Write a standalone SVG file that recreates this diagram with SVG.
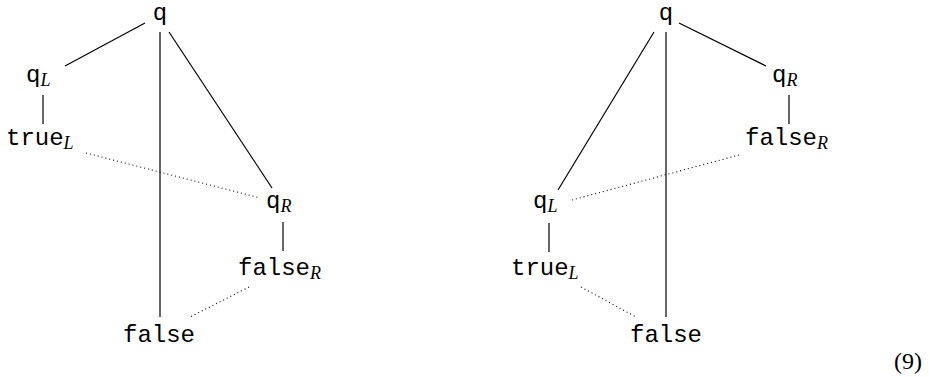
<svg xmlns="http://www.w3.org/2000/svg" width="930" height="377" viewBox="0 0 930 377">
<style>
.tt{font-family:"Liberation Mono","DejaVu Sans Mono",monospace;font-size:24px;fill:#000}
.sub{font-family:"Liberation Serif","DejaVu Serif",serif;font-style:italic;font-size:18px;fill:#000}
.num{font-family:"Liberation Serif","DejaVu Serif",serif;font-size:24px;fill:#000}
.solid{stroke:#000;stroke-width:1.2;fill:none}
.dot{stroke:#000;stroke-width:1.1;fill:none;stroke-dasharray:1 3}
</style>
<rect width="930" height="377" fill="#fff"/>
<g id="connectors">
<line class="solid" x1="145" y1="23" x2="65" y2="66"/>
<line class="solid" x1="160" y1="32" x2="160" y2="317"/>
<line class="solid" x1="169" y1="32" x2="272" y2="188"/>
<line class="solid" x1="43" y1="95" x2="43" y2="124"/>
<line class="dot" x1="86" y1="153" x2="260" y2="198"/>
<line class="solid" x1="283" y1="222" x2="283" y2="251"/>
<line class="dot" x1="249" y1="287" x2="190" y2="317"/>
<line class="solid" x1="679" y1="23" x2="766" y2="66"/>
<line class="solid" x1="666" y1="32" x2="666" y2="317"/>
<line class="solid" x1="654" y1="32" x2="558" y2="190"/>
<line class="solid" x1="789" y1="95" x2="789" y2="124"/>
<line class="dot" x1="739" y1="155" x2="572" y2="200"/>
<line class="solid" x1="549" y1="223" x2="549" y2="252"/>
<line class="dot" x1="581" y1="287" x2="636" y2="317"/>
</g>
<g id="l-q"><text class="tt" x="160" y="20" text-anchor="middle">q</text></g>
<g id="l-qL"><text x="26" y="82"><tspan class="tt">q</tspan><tspan class="sub" dy="4">L</tspan></text></g>
<g id="l-trueL"><text x="6" y="145"><tspan class="tt">true</tspan><tspan class="sub" dy="4">L</tspan></text></g>
<g id="l-qR"><text x="266" y="208"><tspan class="tt">q</tspan><tspan class="sub" dy="4">R</tspan></text></g>
<g id="l-falseR"><text x="238" y="275"><tspan class="tt">false</tspan><tspan class="sub" dy="4">R</tspan></text></g>
<g id="l-false"><text class="tt" x="159" y="342" text-anchor="middle">false</text></g>
<g id="r-q"><text class="tt" x="666" y="20" text-anchor="middle">q</text></g>
<g id="r-qR"><text x="772" y="82"><tspan class="tt">q</tspan><tspan class="sub" dy="4">R</tspan></text></g>
<g id="r-falseR"><text x="745" y="145"><tspan class="tt">false</tspan><tspan class="sub" dy="4">R</tspan></text></g>
<g id="r-qL"><text x="533" y="208"><tspan class="tt">q</tspan><tspan class="sub" dy="4">L</tspan></text></g>
<g id="r-trueL"><text x="511" y="275"><tspan class="tt">true</tspan><tspan class="sub" dy="4">L</tspan></text></g>
<g id="r-false"><text class="tt" x="666" y="342" text-anchor="middle">false</text></g>
<g id="eqnum"><text class="num" x="908" y="369" text-anchor="middle">(9)</text></g>
</svg>
